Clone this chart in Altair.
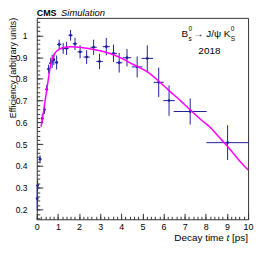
import altair as alt
import pandas as pd

# ---- data ----
t = [0.02, 0.04, 0.155, 0.26, 0.36, 0.47, 0.56, 0.66, 0.73, 0.81, 0.94, 1.06, 1.25, 1.41, 1.60, 1.81,
     2.05, 2.36, 2.69, 2.97, 3.29, 3.63, 3.90, 4.27, 4.75, 5.23, 5.77, 6.26, 7.26, 9.03]
eff = [0.25, 0.31, 0.431, 0.618, 0.659, 0.752, 0.845, 0.872, 0.880, 0.888, 0.875, 0.958, 0.940, 0.940, 1.000, 0.961,
       0.924, 0.900, 0.945, 0.880, 0.948, 0.917, 0.874, 0.897, 0.855, 0.894, 0.784, 0.700, 0.650, 0.507]
t_err = [0.02, 0.02, 0.05, 0.05, 0.05, 0.05, 0.05, 0.05, 0.05, 0.05, 0.07, 0.10, 0.10, 0.10, 0.10, 0.10,
         0.12, 0.15, 0.15, 0.15, 0.17, 0.17, 0.15, 0.20, 0.25, 0.27, 0.24, 0.27, 0.78, 1.00]
eff_err = [0.055, 0.025, 0.018, 0.022, 0.020, 0.020, 0.020, 0.025, 0.030, 0.025, 0.032, 0.022, 0.025, 0.030, 0.025, 0.028,
           0.030, 0.032, 0.035, 0.035, 0.040, 0.040, 0.045, 0.040, 0.048, 0.060, 0.068, 0.070, 0.060, 0.080]

fit_t = [0.2, 0.26, 0.35, 0.45, 0.55, 0.62, 0.7, 0.86, 1.0, 1.25, 1.6, 2.0, 2.5, 3.0, 3.5, 4.0, 4.54,
         5.27, 5.79, 6.26, 6.8, 7.28, 7.8, 8.24, 8.6, 9.0, 9.54, 10.0]
fit_eff = [0.58, 0.61, 0.67, 0.735, 0.80, 0.845, 0.88, 0.918, 0.932, 0.943, 0.947, 0.945, 0.938, 0.929, 0.915,
           0.895, 0.867, 0.83, 0.788, 0.746, 0.70, 0.656, 0.61, 0.574, 0.535, 0.493, 0.43, 0.381]

x_major = list(range(0, 11))
x_minor = [round(i * 0.2, 2) for i in range(51)]
y_major = [0.2, 0.3, 0.4, 0.5, 0.6, 0.7, 0.8, 0.9, 1.0]
y_minor = [round(0.16 + i * 0.02, 2) for i in range(47)]

df = pd.DataFrame({
    "t": t, "eff": eff,
    "lo": [e - d for e, d in zip(eff, eff_err)],
    "hi": [e + d for e, d in zip(eff, eff_err)],
    "tlo": [a - d for a, d in zip(t, t_err)],
    "thi": [a + d for a, d in zip(t, t_err)],
})
fit_df = pd.DataFrame({"t": fit_t, "eff": fit_eff})

FONT = "Liberation Sans"
BLUE = "#1f1f9c"
W, H = 213, 203

xs = alt.Scale(domain=[0, 10], nice=False, zero=False)
ys = alt.Scale(domain=[0.155, 1.08], nice=False, zero=False)

common = dict(grid=False, domain=False, title=None)
ax_x_lab = alt.Axis(orient="bottom", values=x_major, ticks=False, labelFont=FONT, labelFontSize=9,
                    labelPadding=3, labelColor="black", labelFlush=False, labelOverlap=False, format="d", **common)
ax_x_maj = alt.Axis(orient="bottom", values=x_major, labels=False, ticks=True, tickSize=6, offset=-6,
                    tickColor="#333", **common)
ax_x_min = alt.Axis(orient="bottom", values=x_minor, labels=False, ticks=True, tickSize=3, offset=-3,
                    tickColor="#333", **common)
ax_y_lab = alt.Axis(orient="left", values=y_major, ticks=False, labelFont=FONT, labelFontSize=8.5,
                    labelPadding=10, labelColor="black", labelFlush=False, labelOverlap=False,
                    labelExpr="datum.value == 1 ? '1' : format(datum.value, '.1f')", **common)
ax_y_maj = alt.Axis(orient="left", values=y_major, labels=False, ticks=True, tickSize=6, offset=-6,
                    tickColor="#333", **common)
ax_y_min = alt.Axis(orient="left", values=y_minor, labels=False, ticks=True, tickSize=3, offset=-3,
                    tickColor="#333", **common)

vbars = alt.Chart(df).mark_rule(color=BLUE, strokeWidth=1).encode(
    x=alt.X("t:Q", scale=xs, axis=ax_x_lab),
    y=alt.Y("lo:Q", scale=ys, axis=ax_y_lab),
    y2="hi:Q",
)
hbars = alt.Chart(df).mark_rule(color=BLUE, strokeWidth=1).encode(
    x=alt.X("tlo:Q", scale=xs, axis=ax_x_maj),
    x2="thi:Q",
    y=alt.Y("eff:Q", scale=ys, axis=ax_y_maj),
)
points = alt.Chart(df).mark_circle(color=BLUE, size=8, opacity=1).encode(
    x=alt.X("t:Q", scale=xs, axis=ax_x_min),
    y=alt.Y("eff:Q", scale=ys, axis=ax_y_min),
)
curve = alt.Chart(fit_df).mark_line(color="#ff00ff", strokeWidth=1.5, interpolate="monotone").encode(
    x=alt.X("t:Q", scale=xs, axis=None),
    y=alt.Y("eff:Q", scale=ys, axis=None),
)

one = pd.DataFrame({"a": [0]})


def txt(s, x, y, size=10, style="normal", weight="normal", align="left", angle=0, baseline="alphabetic"):
    return alt.Chart(one).mark_text(text=s, font=FONT, fontSize=size, fontStyle=style, fontWeight=weight,
                                    align=align, angle=angle, baseline=baseline, color="black").encode(
        x=alt.value(x), y=alt.value(y))


texts = [
    txt("CMS", 0, -2, size=9, weight="bold"),
    txt("Simulation", 24.5, -2, size=9.5, style="italic"),
    txt("B", 146, 19),
    txt("0", 153, 13, size=6.5),
    txt("s", 153, 23, size=6.5),
    txt("→ J/ψ K", 158, 19),
    txt("0", 195.5, 13, size=6.5),
    txt("S", 195.5, 23, size=6.5),
    txt("2018", 174, 36, align="center"),
    txt("[ps]", 213, 225, align="right"),
    txt("t", 194, 225, align="right", style="italic"),
    txt("Decay time", 188.6, 225, align="right"),
    txt("Efficiency (arbitrary units)", -20.5, 0, size=9, align="right", angle=270),
]

chart = alt.layer(vbars, hbars, points, curve, *texts).resolve_axis(
    x="independent", y="independent"
).properties(
    width=W, height=H,
    padding={"left": 29, "top": 9, "right": 10, "bottom": 30},
    autosize=alt.AutoSizeParams(type="none"),
).configure_view(stroke="#333", strokeWidth=1)

chart.save("out.html", embed_options={"renderer": "svg", "actions": False})
